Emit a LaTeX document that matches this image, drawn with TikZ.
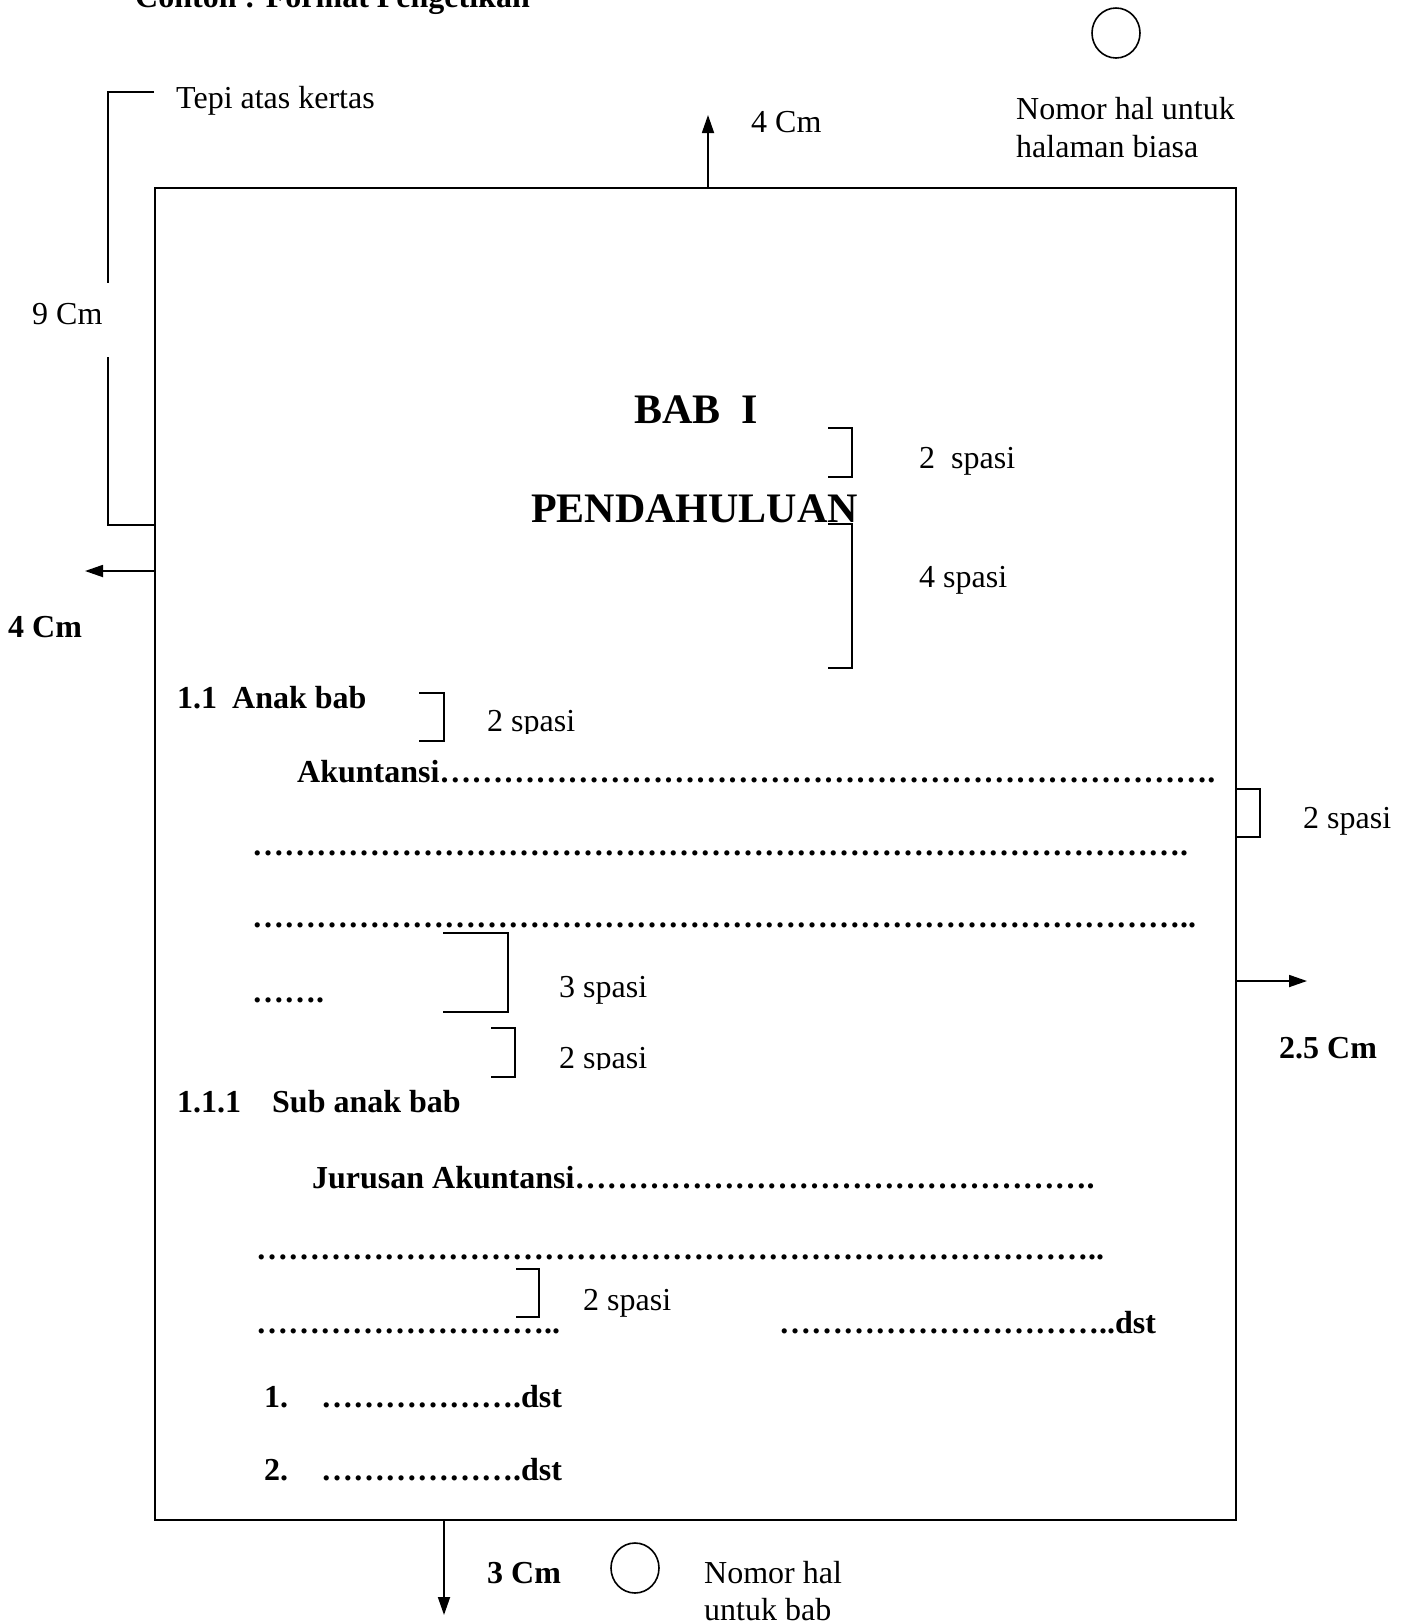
\documentclass[tikz,border=0pt]{standalone}
\usepackage{fontspec}
\setmainfont{Liberation Serif}
\usetikzlibrary{arrows.meta}
\newcommand\dotsrep[1]{\foreach \k in {1,...,#1}{…}}
\tikzset{
  lbl/.style={anchor=base west, inner sep=0pt, font=\fontsize{32}{38}\selectfont},
  blbl/.style={anchor=base west, inner sep=0pt, font=\fontsize{32}{38}\selectfont\bfseries},
  head/.style={anchor=base west, inner sep=0pt, font=\fontsize{42}{50}\selectfont\bfseries},
  ln/.style={line width=1.8pt},
  arr/.style={line width=1.8pt, -{Triangle[length=18pt,width=12pt]}},
  brk/.style={line width=1.8pt}
}
\begin{document}
\begin{tikzpicture}[x=1pt,y=-1pt]
\useasboundingbox (0,0) rectangle (1411,1623);
% title (cut off at top)
\node[blbl] (title) at (135,7) {Contoh : Format Pengetikan};
% page
\draw[ln] (155,188) rectangle (1236,1520);
\coordinate (ptop) at (708,188);
\coordinate (ptopend) at (708,115);
\coordinate (pleft) at (155,571);
\coordinate (pleftend) at (85,571);
\coordinate (pright) at (1236,981);
\coordinate (prightend) at (1307,981);
\coordinate (pbot) at (444,1520);
\coordinate (pbotend) at (444,1615);
\draw[arr] (ptop) -- (ptopend);
\draw[arr] (pleft) -- (pleftend);
\draw[arr] (pright) -- (prightend);
\draw[arr] (pbot) -- (pbotend);
% tepi atas bracket
\draw[ln] (154,92) -- (108,92) -- (108,283);
\draw[ln] (108,357) -- (108,525) -- (155,525);
% circles
\draw[line width=1.6pt] (1116,33) ellipse [x radius=24, y radius=25];
\draw[line width=1.6pt] (635,1568) ellipse [x radius=24, y radius=25];
% outer labels
\node[lbl] (tepi) at (176,108) {Tepi atas kertas};
\node[lbl] (topcm) at (751,132) {4 Cm};
\node[lbl] (nom1) at (1016,119) {Nomor hal untuk};
\node[lbl] (nom2) at (1016,157) {halaman biasa};
\node[lbl] (ninecm) at (32,324) {9 Cm};
\node[blbl] (leftcm) at (8,637) {4 Cm};
\node[blbl] (rightcm) at (1279,1058) {2.5 Cm};
\node[lbl] (rsp) at (1303,828) {2 spasi};
\node[blbl] (botcm) at (487,1583) {3 Cm};
\node[lbl] (nomb1) at (704,1583) {Nomor hal};
\node[lbl] (nomb2) at (704,1620) {untuk bab};
% headings
\node[head] (bab) at (634,423) {BAB~~I};
\node[head] (pend) at (531,522) {PENDAHULUAN};
% brackets
\draw[brk] (828,428) -- (852,428) -- (852,477) -- (828,477);
\draw[brk] (828,524) -- (852,524) -- (852,668) -- (828,668);
\draw[brk] (419,693) -- (444,693) -- (444,741) -- (419,741);
\draw[brk] (1236,789) -- (1260,789) -- (1260,837) -- (1236,837);
\draw[brk] (443,933) -- (508,933) -- (508,1012) -- (443,1012);
\draw[brk] (491,1028) -- (515,1028) -- (515,1077) -- (491,1077);
\draw[brk] (516,1269) -- (539,1269) -- (539,1317) -- (516,1317);
% spacing labels
\node[lbl] (sp1) at (919,468) {2~~spasi};
\node[lbl] (sp2) at (919,587) {4 spasi};
\begin{scope}
\clip (480,680) rectangle (620,733);
\node[lbl] (sp3) at (487,731) {2 spasi};
\end{scope}
\node[lbl] (sp4) at (559,997) {3 spasi};
\begin{scope}
\clip (550,1030) rectangle (700,1069);
\node[lbl] (sp5) at (559,1068) {2 spasi};
\end{scope}
\node[lbl] (sp6) at (583,1310) {2 spasi};
% body text
\node[blbl] (anak) at (177,708) {1.1\hspace{15pt}Anak bab};
\node[blbl] (ak) at (297,782) {Akuntansi\dotsrep{24}.};
\node[blbl] (l2) at (252,855) {\dotsrep{29}.};
\node[blbl] (l3) at (252,927) {\dotsrep{29}..};
\node[blbl] (l4) at (252,1002) {\dotsrep{2}.};
\node[blbl] (sub) at (177,1112) {1.1.1\hspace{31pt}Sub anak bab};
\node[blbl] (jur) at (312,1188) {Jurusan Akuntansi\dotsrep{16}.};
\node[blbl] (l5) at (256,1259) {\dotsrep{26}..};
\node[blbl] (l6) at (256,1333) {\dotsrep{9}..};
\node[blbl] (l7) at (779,1333) {\dotsrep{10}..dst};
\node[blbl] (n1) at (264,1407) {1.};
\node[blbl] (n1d) at (321,1407) {\dotsrep{6}.dst};
\node[blbl] (n2) at (264,1480) {2.};
\node[blbl] (n2d) at (321,1480) {\dotsrep{6}.dst};
\end{tikzpicture}
\end{document}
